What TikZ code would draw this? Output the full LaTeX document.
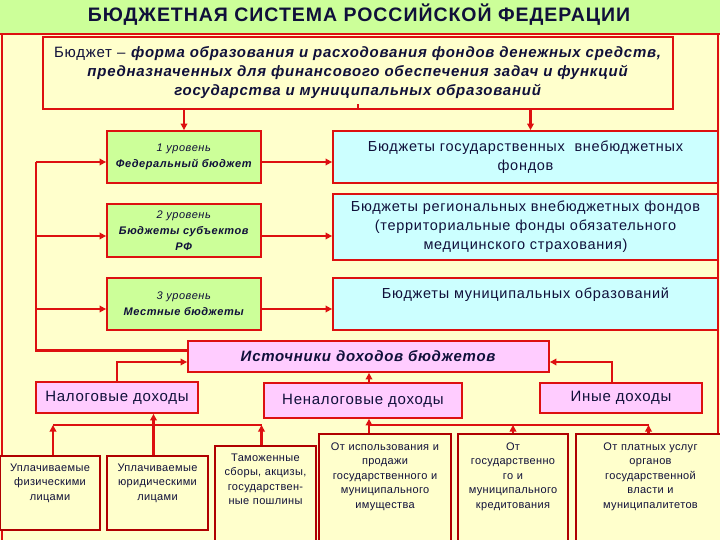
\documentclass[tikz,border=0pt]{standalone}
\usepackage{fontspec}
\setmainfont{Liberation Sans}
\newfontfamily\spacedfont[LetterSpace=5]{Liberation Sans}
\newfontfamily\lightspaced[LetterSpace=3]{Liberation Sans}
\usetikzlibrary{arrows.meta}
\definecolor{fonYellow}{HTML}{FFFFCC}
\definecolor{fonGreen}{HTML}{CCFF99}
\definecolor{fonCyan}{HTML}{CCFFFF}
\definecolor{fonPink}{HTML}{FFCCFF}
\definecolor{redA}{HTML}{DD1010}
\definecolor{redB}{HTML}{B00000}
\definecolor{ink}{HTML}{10103A}

\begin{document}
\begin{tikzpicture}[
    x=1pt, y=-1pt,
    >={Triangle[length=6.5pt,width=6.5pt]},
    box/.style={draw=redA, line width=1.8pt, align=center, text=ink},
    lvbox/.style={box, fill=fonGreen, minimum width=154pt,
        font=\spacedfont\fontsize{11}{16}\selectfont},
    fdbox/.style={box, fill=fonCyan, minimum width=385pt, text width=375pt,
        font=\spacedfont\fontsize{14.5}{19}\selectfont},
    inbox/.style={box, fill=fonPink, font=\spacedfont\fontsize{15}{17}\selectfont},
    lowbox/.style={box, draw=redB, fill=fonYellow, inner ysep=0pt,
        text height=15pt, text depth=#1,
        font=\lightspaced\fontsize{11}{14.5}\selectfont},
    wire/.style={draw=redA, line width=2.2pt},
    arr/.style={wire, ->}
]
\useasboundingbox (0,0) rectangle (720,540);

% Фон
\fill[fonYellow] (0,0) rectangle (720,540);
\fill[fonGreen] (0,0) rectangle (720,34);
\draw[redA, line width=1.6pt] (0,34) -- (720,34);
\draw[redA, line width=1.6pt] (2,34) -- (2,540);
\draw[redA, line width=1.6pt] (718,34) -- (718,540);

% Заголовок
\node[text=ink, font=\spacedfont\bfseries\fontsize{19.5}{22}\selectfont] (title) at (359,15)
    {БЮДЖЕТНАЯ СИСТЕМА РОССИЙСКОЙ ФЕДЕРАЦИИ};

% Определение бюджета
\node[box, fill=fonYellow, minimum width=630pt, minimum height=72pt,
    font=\spacedfont\fontsize{15}{19}\selectfont] (top) at (358,73)
    {Бюджет – \textbf{\textit{форма образования и расходования фондов денежных средств,}}\\
     \textbf{\textit{предназначенных для финансового обеспечения задач и функций}}\\
     \textbf{\textit{государства и муниципальных образований}}};

% Уровни
\node[lvbox, minimum height=52pt] (lvA) at (184,157)
    {\textit{1 уровень}\\\textbf{\textit{Федеральный бюджет}}};
\node[lvbox, minimum height=53pt] (lvB) at (184,230.5)
    {\textit{2 уровень}\\\textbf{\textit{Бюджеты субъектов}}\\\textbf{\textit{РФ}}};
\node[lvbox, minimum height=52pt] (lvC) at (184,304)
    {\textit{3 уровень}\\\textbf{\textit{Местные бюджеты}}};

% Фонды
\node[fdbox, minimum height=52pt] (fdA) at (525.5,157)
    {Бюджеты государственных\ \ внебюджетных\\фондов};
\node[fdbox, minimum height=66pt] (fdB) at (525.5,227)
    {Бюджеты региональных внебюджетных фондов\\(территориальные фонды обязательного\\медицинского страхования)};
\node[fdbox, inner ysep=0pt, text height=20pt, text depth=32pt] (fdC) at (525.5,304)
    {Бюджеты муниципальных образований};

% Источники
\node[inbox, minimum width=361pt, minimum height=31pt] (src) at (368.5,356.5)
    {\textbf{\textit{Источники доходов бюджетов}}};
\node[inbox, minimum width=162pt, minimum height=31pt] (tax) at (117,397.5)
    {Налоговые доходы};
\node[inbox, minimum width=198pt, minimum height=35pt] (ntax) at (363,400.5)
    {Неналоговые доходы};
\node[inbox, minimum width=162pt, minimum height=30pt] (oth) at (621,398)
    {Иные доходы};

% Виды доходов
\node[lowbox=59pt, minimum width=98pt, text width=94pt] (b1) at (50,493)
    {Уплачиваемые\\физическими\\лицами};
\node[lowbox=59pt, minimum width=99pt, text width=95pt] (b2) at (157.5,493)
    {Уплачиваемые\\юридическими\\лицами};
\node[lowbox=84pt, minimum width=99pt, text width=95pt] (b3) at (265.5,495.5)
    {Таможенные\\сборы, акцизы,\\государствен-\\ные пошлины};
\node[lowbox=95pt, text height=16pt, minimum width=130pt, text width=126pt] (b4) at (385,489.5)
    {От использования и\\продажи\\государственного и\\муниципального\\имущества};
\node[lowbox=95pt, text height=16pt, minimum width=108pt, text width=104pt] (b5) at (513,489.5)
    {От\\государственно\\го и\\муниципального\\кредитования};
\node[lowbox=95pt, text height=16pt, minimum width=149pt, text width=140pt] (b6) at (650.5,489.5)
    {От платных услуг\\органов\\государственной\\власти и\\муниципалитетов};

% Связи сверху
\draw[wire] (top.south) -- ++(0,-6);
\draw[arr] (lvA.north |- top.south) -- (lvA.north);
\draw[arr] ([xshift=5pt]fdA.north |- top.south) -- ([xshift=5pt]fdA.north);

% Шина уровней
\coordinate (jA) at (36,162);
\coordinate (jB) at (36,236);
\coordinate (jC) at (36,309);
\draw[wire] ([yshift=6pt]src.west) -| (jA);
\foreach \j/\lv/\fd in {jA/lvA/fdA, jB/lvB/fdB, jC/lvC/fdC} {
    \draw[arr] (\j) -- (\j -| \lv.west);
    \draw[arr] (\j -| \lv.east) -- (\j -| \fd.west);
}

% Доходы в источники
\draw[arr] (tax.north) |- ([yshift=-5.5pt]src.west);
\draw[arr] ([xshift=6pt]ntax.north) -- ([xshift=6pt]ntax.north |- src.south);
\draw[arr] ([xshift=-9pt]oth.north) |- ([yshift=-5.5pt]src.east);

% Налоговые
\coordinate (hub) at (0,425);
\draw[wire] ([xshift=3pt]b1.north |- hub) -- ([xshift=-4pt]b3.north |- hub);
\draw[arr] ([xshift=3pt]b1.north) -- ([xshift=3pt]b1.north |- hub);
\draw[arr] ([xshift=-4pt]b3.north) -- ([xshift=-4pt]b3.north |- hub);
\draw[arr] ([xshift=-4pt]b2.north) -- ([xshift=-4pt]b2.north |- tax.south);

% Неналоговые
\draw[wire] ([xshift=6pt]ntax.south |- hub) -- ([xshift=-2pt]b6.north |- hub);
\draw[arr] ([xshift=6pt]ntax.south |- b4.north) -- ([xshift=6pt]ntax.south);
\draw[arr] (b5.north) -- (b5.north |- hub);
\draw[arr] ([xshift=-2pt]b6.north) -- ([xshift=-2pt]b6.north |- hub);

\end{tikzpicture}
\end{document}
